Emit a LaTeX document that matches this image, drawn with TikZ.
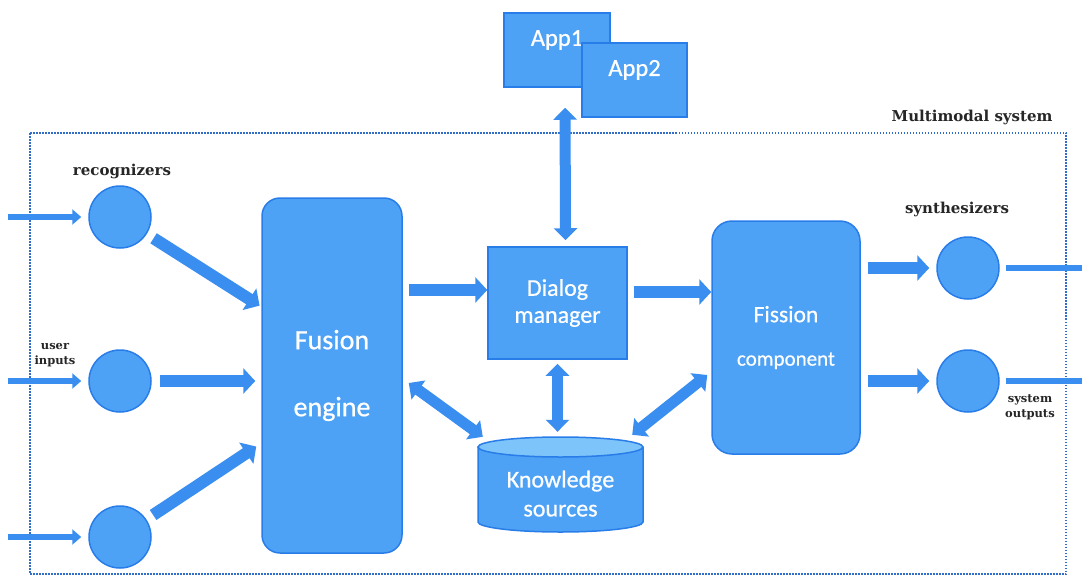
\documentclass[tikz,border=0pt]{standalone}
\usepackage{fontspec}
\setmainfont{Carlito}
\newfontfamily\boxfont[FakeBold=0.7]{Carlito}
\newfontfamily\lblfont{DejaVu Serif}
\usetikzlibrary{arrows.meta,calc}
\definecolor{boxfill}{RGB}{78,162,245}
\definecolor{boxline}{RGB}{40,125,232}
\definecolor{arrowc}{RGB}{58,142,240}
\definecolor{cyltop}{RGB}{125,196,250}
\definecolor{framec}{RGB}{50,110,200}
\begin{document}
\begin{tikzpicture}[x=1pt,y=-1pt,
  box/.style={draw=boxline, fill=boxfill, line width=1.5pt, text=white, align=center, inner sep=0pt},
  rbox/.style={box, rounded corners=18pt},
  rec/.style={circle, draw=boxline, fill=boxfill, line width=1.5pt, minimum size=62pt, inner sep=0pt},
  fat/.style={arrowc, line width=12pt, -{Triangle[length=12pt,width=25pt]}},
  fatboth/.style={arrowc, line width=11pt, {Triangle[length=12pt,width=23pt]}-{Triangle[length=12pt,width=23pt]}},
  thinarrow/.style={arrowc, line width=6pt, -{Triangle[length=9pt,width=15pt]}},
  outline/.style={arrowc, line width=6pt},
  lbl/.style={font=\lblfont\bfseries\fontsize{15}{17}\selectfont, text=black!85, align=center},
  smalllbl/.style={font=\lblfont\bfseries\fontsize{11.5}{15}\selectfont, text=black!85, align=center}
]
\useasboundingbox (0,0) rectangle (1082,576);
\fill[white] (0,0) rectangle (1082,576);

% frame
\draw[framec, line width=1.8pt, dash pattern=on 1.5pt off 1.5pt] (30,133) rectangle (1066,574);
\node[lbl, anchor=east] (mmlabel) at (1056,117) {Multimodal system};

% apps
\node[box, minimum width=106pt, minimum height=74pt, font=\boxfont\fontsize{24.5}{28}\selectfont, text depth=24pt] (app1) at (557,50) {App1};
\node[box, minimum width=105pt, minimum height=74pt, font=\boxfont\fontsize{24.5}{28}\selectfont, text depth=24pt] (app2) at (634.5,80) {App2};

% main blocks
\node[rbox, minimum width=140pt, minimum height=355pt, font=\boxfont\fontsize{28}{32}\selectfont] (fusion) at (332,375.5) {Fusion\\[35pt]engine};
\node[box, minimum width=139pt, minimum height=112pt, font=\boxfont\fontsize{24}{27}\selectfont] (dialog) at (557.5,303) {Dialog\\manager};
\node[rbox, minimum width=148pt, minimum height=233pt, rounded corners=20pt, font=\boxfont] (fission) at (786,337.5) {{\fontsize{23.5}{26}\selectfont Fission}\\[29pt]{\fontsize{21}{22}\selectfont component}};

% knowledge cylinder
\fill[boxfill] (478,447) rectangle (643,522);
\fill[boxfill] (560.5,522) ellipse [x radius=82.5pt, y radius=10pt];
\draw[boxline, line width=1.5pt] (478,447) -- (478,522) arc[start angle=180, end angle=0, x radius=82.5pt, y radius=-10pt] -- (643,447);
\draw[boxline, line width=1.5pt, fill=cyltop] (560.5,447) ellipse [x radius=82.5pt, y radius=10pt];
\node[minimum width=165pt, minimum height=105pt, inner sep=0pt, text=white, align=center, font=\boxfont\fontsize{24}{29}\selectfont] (ks) at (560.5,489.5) {\\[-4pt]Knowledge\\sources};

% recognizers / synthesizers
\node[rec] (rec1) at (120,217) {};
\node[rec] (rec2) at (120,381) {};
\node[rec] (rec3) at (120,537) {};
\node[rec] (syn1) at (968,268) {};
\node[rec] (syn2) at (968,381) {};

\node[lbl] (reclbl) at (122,171) {recognizers};
\node[lbl] (synlbl) at (957,209) {synthesizers};
\node[smalllbl] (userlbl) at (55,355) {user\\inputs};
\node[smalllbl] (syslbl) at (1030,407) {system\\outputs};

% inputs
\coordinate (in1) at (8,217);
\coordinate (in2) at (8,381);
\coordinate (in3) at (8,537);
\draw[thinarrow, shorten >=7pt] (in1) -- (rec1);
\draw[thinarrow, shorten >=7pt] (in2) -- (rec2);
\draw[thinarrow, shorten >=7pt] (in3) -- (rec3);

% recognizers to fusion
\draw[fat, shorten <=8pt, shorten >=2pt] (rec1) -- ($(fusion.north west)!0.307!(fusion.south west)$);
\draw[fat, shorten <=8pt, shorten >=6pt] (rec2) -- (rec2 -| fusion.west);
\draw[fat, shorten <=8pt, shorten >=6pt] (rec3) -- ($(fusion.north west)!0.69!(fusion.south west)$);

% fusion -> dialog
\coordinate (d1) at ([yshift=13pt]dialog.west);
\draw[fat, shorten <=6pt] (fusion.east |- d1) -- (d1);
% dialog -> fission
\coordinate (d2) at ([yshift=11pt]dialog.east);
\draw[fat, shorten <=6pt] (d2) -- (fission.west |- d2);

% app <-> dialog
\draw[fatboth, shorten <=20pt, shorten >=6pt] ([xshift=8pt]app1.south) -- ([xshift=8pt]dialog.north);
% dialog <-> knowledge
\draw[fatboth, shorten <=4pt, shorten >=5pt] (dialog.south) -- (dialog.south |- ks.north);
% fusion <-> knowledge
\draw[fatboth] ([xshift=6pt,yshift=-7.5pt]fusion.east) -- ([xshift=5pt]ks.north west);
% knowledge <-> fission
\draw[fatboth] ([xshift=-11pt,yshift=2pt]ks.north east) -- ([xshift=-4pt,yshift=-37.5pt]fission.west);

% fission -> synthesizers
\draw[fat, shorten <=7pt, shorten >=7pt] (fission.east |- syn1) -- (syn1);
\draw[fat, shorten <=7pt, shorten >=7pt] (fission.east |- syn2) -- (syn2);

% outputs
\coordinate (out1) at (1082,268);
\coordinate (out2) at (1082,381);
\draw[outline, shorten <=6pt] (syn1) -- (out1);
\draw[outline, shorten <=6pt] (syn2) -- (out2);
\end{tikzpicture}
\end{document}
